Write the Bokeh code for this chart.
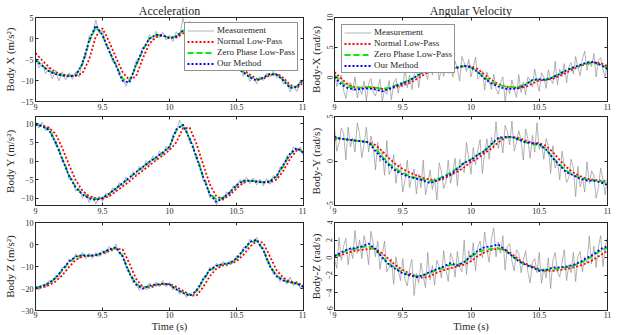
import numpy as np
from bokeh.plotting import figure
from bokeh.layouts import row, column
from bokeh.models import (LinearAxis, FixedTicker, NumeralTickFormatter, Legend,
                          LegendItem, Range1d)
from bokeh.embed import file_html
from bokeh.resources import INLINE

# ---------------- data ----------------
t_acc = np.round(9.0 + 0.025 * np.arange(81), 4)     # raw accel sample times (s)
t_ang = np.round(9.0 + np.arange(121) / 60.0, 4)     # raw gyro sample times (s)
t_filt = np.round(9.0 + 0.05 * np.arange(41), 3)     # filtered sample times (s)
x_ticks = [9, 9.5, 10, 10.5, 11]

series_labels = ["Measurement", "Normal Low-Pass", "Zero Phase Low-Pass", "Our Method"]

# Acceleration X
accx_meas = [-4.6,-7.0,-5.8,-8.4,-6.9,-9.6,-7.6,-10.1,-8.0,-9.9,
             -8.2,-9.7,-7.9,-9.2,-5.1,-4.6,0.6,1.0,4.4,1.6,
             1.9,-1.8,-2.2,-5.6,-5.7,-8.9,-9.0,-11.4,-9.5,-8.9,
             -5.3,-5.0,-2.0,-1.9,0.9,-0.2,1.7,0.2,1.5,-0.4,
             0.8,-0.7,1.6,0.3,4.8,2.0,4.1,1.8,2.9,0.2,
             0.9,-2.1,-1.6,-4.4,-3.7,-6.0,-5.0,-7.1,-5.6,-7.6,
             -6.2,-5.9,-9.0,-7.9,-10.2,-9.0,-10.8,-9.1,-10.0,-8.2,
             -9.1,-7.8,-9.4,-8.6,-10.9,-10.2,-12.7,-11.3,-12.6,-9.9,
             -10.4]
accx_normal = [-3.5,-5.2,-6.8,-8.0,-8.6,-8.8,-8.9,-8.3,-5.0,0.5,
               2.4,-0.8,-4.5,-8.0,-9.9,-9.0,-4.8,-1.2,0.3,0.7,
               0.2,0.2,1.2,2.5,2.5,0.8,-1.5,-3.8,-5.3,-6.2,
               -6.7,-7.4,-8.6,-9.6,-9.6,-8.7,-8.4,-9.4,-11.0,-11.8,
               -10.5]
accx_zero = [-5.0,-6.4,-7.6,-8.4,-8.8,-8.9,-8.7,-6.2,-0.9,2.7,
             0.7,-3.0,-6.3,-9.7,-10.1,-6.6,-2.8,-0.1,0.8,0.8,
             0.1,0.5,1.8,2.8,2.0,0.1,-2.4,-4.4,-5.7,-6.4,
             -7.0,-7.9,-9.1,-9.8,-9.3,-8.5,-8.6,-9.9,-11.5,-11.4,
             -9.9]
accx_ours = [-5.2,-6.5,-7.8,-8.5,-8.8,-9.0,-8.8,-6.0,-0.5,3.1,
             0.8,-3.0,-6.4,-10.1,-10.5,-6.3,-2.7,0.0,0.9,0.8,
             0.0,0.5,1.9,3.0,2.0,0.0,-2.5,-4.5,-5.8,-6.5,
             -7.0,-8.0,-9.3,-10.0,-9.3,-8.4,-8.6,-10.0,-11.8,-11.5,
             -9.8]

# Acceleration Y
accy_meas = [10.6,8.9,10.5,8.1,9.2,7.7,4.1,3.7,-0.3,-0.9,
             -4.9,-4.8,-8.1,-7.2,-10.1,-8.7,-11.2,-9.4,-11.6,-9.5,
             -10.9,-8.6,-9.7,-7.2,-8.3,-5.8,-6.9,-4.3,-5.4,-2.9,
             -3.9,-1.4,-2.5,0.1,-1.1,1.4,0.1,2.7,1.4,4.0,
             2.9,7.2,7.6,11.0,9.0,9.1,5.0,4.7,0.3,-0.4,
             -5.2,-5.5,-9.9,-9.2,-11.9,-9.6,-10.8,-8.3,-9.4,-6.6,
             -7.4,-5.0,-6.2,-4.4,-6.1,-4.6,-6.5,-4.9,-6.7,-4.8,
             -6.3,-3.9,-4.9,-1.6,-1.9,1.5,1.1,3.8,2.6,3.8,
             1.4]
accy_normal = [9.9,9.6,9.0,7.3,3.5,-1.0,-5.2,-8.0,-9.5,-10.0,
               -10.2,-9.5,-8.2,-6.9,-5.5,-4.0,-2.6,-1.2,0.2,1.5,
               2.9,5.0,8.8,9.0,4.8,-0.8,-6.2,-9.6,-10.3,-9.2,
               -7.4,-5.9,-5.3,-5.4,-5.7,-5.8,-5.0,-2.6,0.6,2.9,
               3.1]
accy_zero = [9.8,9.4,8.5,5.2,0.7,-3.8,-7.0,-9.0,-9.9,-10.3,
             -10.0,-8.8,-7.4,-6.0,-4.6,-3.1,-1.7,-0.3,0.9,2.2,
             3.8,8.2,9.8,6.2,1.4,-4.0,-8.8,-10.3,-9.8,-8.4,
             -6.6,-5.4,-5.3,-5.5,-5.7,-5.4,-4.1,-1.2,1.8,3.3,
             2.3]
accy_ours = [9.8,9.4,8.4,5.0,0.5,-4.0,-7.2,-9.0,-10.1,-10.5,
             -10.0,-8.8,-7.4,-6.0,-4.5,-3.0,-1.6,-0.2,1.0,2.3,
             3.8,8.5,9.8,6.0,1.2,-4.2,-9.0,-11.0,-10.0,-8.5,
             -6.5,-5.3,-5.3,-5.6,-5.8,-5.5,-4.0,-1.0,2.0,3.5,
             2.2]

# Acceleration Z
accz_meas = [-18.6,-20.7,-18.2,-19.6,-16.4,-17.6,-14.1,-14.8,-10.3,-10.9,
             -6.6,-7.9,-4.2,-6.5,-3.6,-6.4,-4.0,-6.3,-3.5,-5.5,
             -2.6,-4.2,-0.9,-2.9,0.2,-4.3,-4.2,-10.4,-11.8,-17.3,
             -17.0,-20.8,-19.0,-20.6,-17.5,-19.7,-17.0,-19.3,-16.4,-19.1,
             -17.2,-20.6,-19.4,-22.5,-21.0,-24.1,-22.2,-23.8,-20.0,-19.9,
             -14.9,-15.0,-10.4,-11.9,-8.5,-10.4,-7.7,-9.9,-7.3,-8.7,
             -5.2,-5.6,-1.3,-1.8,2.4,0.7,3.4,-1.2,-1.3,-7.5,
             -8.8,-13.6,-13.3,-16.8,-15.2,-18.1,-14.8,-18.8,-16.6,-19.8,
             -18.2]
accz_normal = [-20.0,-19.5,-18.5,-16.8,-14.0,-10.2,-7.0,-5.4,-5.1,-5.0,
               -4.3,-3.0,-1.8,-2.2,-8.5,-15.5,-19.3,-19.6,-18.6,-18.1,
               -18.0,-19.2,-21.0,-22.8,-23.3,-19.5,-14.5,-11.0,-9.5,-8.8,
               -7.7,-4.8,-1.0,1.5,0.8,-5.5,-11.8,-15.2,-16.8,-17.5,
               -18.6]
accz_zero = [-19.6,-19.0,-17.6,-15.3,-11.8,-8.0,-5.7,-4.9,-5.1,-4.8,
             -3.8,-2.4,-1.6,-5.2,-12.6,-17.9,-19.8,-18.8,-18.2,-17.9,
             -18.2,-20.2,-21.8,-23.0,-21.3,-16.3,-11.8,-9.8,-8.9,-8.5,
             -6.5,-2.8,0.8,1.9,-2.3,-9.6,-14.2,-16.3,-17.1,-17.8,
             -19.2]
accz_ours = [-19.7,-19.0,-17.5,-15.2,-11.5,-7.8,-5.5,-4.8,-5.2,-4.8,
             -3.7,-2.2,-1.3,-5.5,-13.0,-18.2,-20.1,-18.7,-18.2,-17.8,
             -18.2,-20.4,-22.0,-23.3,-21.2,-16.0,-11.5,-9.7,-8.8,-8.5,
             -6.3,-2.5,1.2,2.2,-2.5,-10.0,-14.5,-16.4,-17.2,-17.8,
             -19.3]

# Angular velocity X
angx_meas = [1.0,-1.5,-0.4,0.4,-2.1,-3.5,-1.2,-0.8,-2.2,0.1,
             -3.4,-1.7,-2.8,-0.6,-3.9,-1.0,-0.2,-2.4,-3.1,-1.6,
             -0.3,-3.9,-2.1,-2.8,-0.5,-3.7,-0.9,-0.2,-2.6,-0.8,
             -1.6,1.6,-1.7,0.4,-2.0,0.4,1.7,-1.7,0.7,1.9,
             0.6,-0.3,3.1,0.4,2.0,2.7,-0.4,1.6,0.2,3.4,
             0.7,2.2,0.1,2.7,1.5,-0.6,3.5,2.5,1.0,3.0,
             0.1,1.7,3.4,-0.2,0.2,1.1,-2.1,0.9,-0.6,-2.0,
             0.5,-1.9,-2.8,-0.9,0.1,-3.9,-1.5,-2.7,-0.4,-2.0,
             -3.3,0.5,-2.5,-0.8,-2.9,0.1,-0.5,-1.6,1.4,-0.8,
             -2.3,0.8,0.1,-1.8,1.3,-0.4,-1.0,2.7,-1.2,1.4,
             0.1,2.3,-0.9,1.8,2.5,0.6,3.5,1.6,0.3,3.1,
             4.4,1.2,2.8,1.8,4.0,0.1,2.9,3.3,1.3,0.1,
             2.5]
angx_normal = [0.9,-0.2,-1.2,-1.6,-1.7,-1.6,-1.7,-1.9,-1.9,-1.6,
               -1.3,-0.9,-0.3,0.4,1.0,1.3,1.4,1.4,1.6,1.9,
               1.9,1.4,0.5,-0.4,-1.1,-1.5,-1.7,-1.7,-1.6,-1.0,
               -0.5,-0.4,-0.2,0.3,0.8,1.4,1.9,2.3,2.5,2.4,
               1.9]
angx_zero = [0.4,-0.8,-1.5,-1.7,-1.7,-1.6,-1.7,-1.9,-1.7,-1.3,
             -0.9,-0.4,0.2,0.9,1.3,1.4,1.4,1.4,1.7,1.9,
             1.7,0.9,0.0,-0.8,-1.2,-1.5,-1.6,-1.5,-1.1,-0.5,
             -0.3,-0.3,0.1,0.7,1.2,1.6,2.0,2.3,2.4,2.1,
             1.6]
angx_ours = [0.1,-1.2,-1.8,-2.0,-1.9,-1.8,-2.0,-2.3,-1.9,-1.4,
             -1.0,-0.5,0.2,0.9,1.3,1.4,1.4,1.4,1.7,2.0,
             1.7,0.9,-0.2,-1.0,-1.5,-1.9,-1.9,-1.8,-1.2,-0.4,
             -0.3,-0.4,0.0,0.6,1.2,1.7,2.1,2.5,2.6,2.1,
             1.4]

# Angular velocity Y
angy_meas = [3.8,1.1,2.0,3.7,3.1,0.1,3.8,1.6,2.6,1.0,
             4.3,3.1,0.4,1.8,3.8,1.0,2.8,1.8,-1.0,2.1,
             -0.1,1.1,-1.6,2.3,-1.5,-1.0,0.7,-2.5,-0.7,-0.3,
             -3.5,-2.1,0.1,-3.0,-1.7,-0.9,-3.7,-1.5,-3.0,0.1,
             -3.8,-2.5,-1.0,-3.2,-1.9,-4.4,-0.2,-1.2,-3.1,-2.3,
             0.1,-2.5,-1.2,0.3,-2.8,0.2,-0.7,-1.3,2.1,0.3,
             -1.5,1.5,-0.4,1.2,2.4,-1.4,0.9,2.5,0.2,2.7,
             1.4,4.4,1.4,2.8,0.9,4.0,3.3,1.8,4.5,1.1,
             2.1,3.4,2.3,0.1,3.6,2.5,0.3,2.9,1.0,4.3,
             1.3,2.0,0.2,2.5,1.7,-1.4,1.7,-0.8,-0.1,-2.1,
             1.1,-0.5,-2.4,-1.9,0.2,-0.8,-4.0,-0.6,-2.9,-1.9,
             -3.5,-0.1,-2.5,-1.1,-1.6,-4.2,-3.0,-0.8,-2.1,-3.8,
             -1.8]
angy_normal = [2.4,2.5,2.4,2.3,2.2,2.1,1.8,1.1,0.3,-0.4,
               -0.9,-1.3,-1.6,-1.9,-2.1,-2.2,-2.0,-1.6,-1.2,-0.7,
               -0.1,0.3,0.9,1.4,2.1,2.6,2.7,2.6,2.3,2.0,
               2.0,1.7,1.0,0.1,-0.7,-1.3,-1.7,-2.0,-2.1,-2.2,
               -2.3]
angy_zero = [2.6,2.5,2.4,2.3,2.2,2.1,1.4,0.5,-0.3,-0.9,
             -1.3,-1.7,-1.9,-2.1,-2.3,-2.1,-1.7,-1.3,-0.8,-0.2,
             0.2,0.7,1.2,1.9,2.5,2.7,2.7,2.4,2.1,1.9,
             1.8,1.3,0.4,-0.4,-1.1,-1.6,-1.9,-2.1,-2.2,-2.3,
             -2.5]
angy_ours = [2.7,2.5,2.4,2.3,2.2,2.1,1.1,0.3,-0.5,-1.1,
             -1.5,-1.8,-2.0,-2.2,-2.5,-2.2,-1.8,-1.5,-0.9,-0.2,
             0.1,0.7,1.1,1.9,2.6,2.7,2.7,2.4,2.1,2.0,
             1.9,1.3,0.3,-0.5,-1.3,-1.6,-2.0,-2.2,-2.2,-2.4,
             -2.7]

# Angular velocity Z
angz_meas = [-0.2,-1.2,2.3,-0.3,1.3,2.2,-0.8,1.2,-0.1,3.1,
             0.5,2.0,-0.1,2.5,1.3,-0.8,3.0,1.7,0.1,1.9,
             -1.3,0.3,1.9,-1.6,-1.1,-0.1,-3.0,0.1,-1.4,-2.6,
             -0.1,-2.5,-3.2,-1.3,-0.2,-4.3,-1.8,-2.9,-0.6,-2.1,
             -3.4,0.6,-2.5,-0.9,-3.1,-0.3,-1.0,-2.3,0.8,-1.4,
             -2.7,0.5,-0.2,-2.2,0.7,-1.1,-1.6,2.0,-1.9,0.8,
             -0.5,1.7,-1.5,1.2,1.9,0.0,2.9,0.8,-0.5,2.2,
             3.4,0.1,1.8,0.5,2.5,-1.4,1.3,1.6,-0.4,-1.5,
             0.9,0.5,-1.7,-0.3,0.8,-1.6,-2.9,-0.5,-0.1,-1.7,
             0.6,-2.9,-1.2,-2.3,0.0,-3.5,-0.3,0.6,-1.6,-2.2,
             -0.6,0.9,-2.6,-0.8,-1.7,0.6,-2.7,0.1,0.7,-1.6,
             0.1,-0.6,2.5,-0.7,1.3,-1.1,1.2,2.5,-1.0,1.2,
             2.3]
angz_normal = [0.1,0.3,0.6,0.8,0.9,1.0,1.0,0.5,-0.2,-0.9,
               -1.4,-1.8,-2.1,-2.3,-2.1,-1.7,-1.4,-1.2,-1.0,-0.8,
               -0.4,0.2,0.6,0.9,1.0,0.9,0.4,-0.2,-0.7,-1.0,
               -1.3,-1.5,-1.5,-1.4,-1.3,-1.1,-0.9,-0.6,-0.2,0.3,
               0.8]
angz_zero = [0.2,0.5,0.9,1.0,1.2,1.3,0.9,0.1,-0.7,-1.2,
             -1.7,-2.0,-2.1,-2.0,-1.7,-1.4,-1.1,-0.8,-0.8,-0.5,
             0.1,0.6,0.9,1.0,1.1,0.8,0.2,-0.4,-0.8,-1.1,
             -1.4,-1.4,-1.3,-1.2,-1.1,-0.9,-0.6,-0.2,0.3,0.8,
             1.1]
angz_ours = [0.2,0.6,1.0,1.1,1.3,1.6,1.0,0.0,-0.8,-1.3,
             -1.8,-2.0,-2.2,-2.0,-1.6,-1.3,-1.0,-0.6,-0.9,-0.5,
             0.2,0.8,1.2,1.3,1.5,0.9,0.2,-0.4,-0.8,-1.1,
             -1.5,-1.4,-1.1,-1.1,-1.0,-0.8,-0.5,0.0,0.4,1.0,
             1.3]

for arr in [accx_meas, accy_meas, accz_meas]:
    assert len(arr) == 81, len(arr)
for arr in [angx_meas, angy_meas, angz_meas]:
    assert len(arr) == 121, len(arr)
for arr in [accx_normal, accx_zero, accx_ours, accy_normal, accy_zero, accy_ours,
            accz_normal, accz_zero, accz_ours, angx_normal, angx_zero, angx_ours,
            angy_normal, angy_zero, angy_ours, angz_normal, angz_zero, angz_ours]:
    assert len(arr) == 41, len(arr)

# ---------------- styling ----------------
FONT = "Liberation Serif"
C_MEAS = "#8f8f8f"
C_RED = "#ff0000"
C_GREEN = "#00ee00"
C_BLUE = "#0000ff"
C_INK = "#262626"


def style_axis(ax, ticks, show_labels=True):
    ax.ticker = FixedTicker(ticks=ticks)
    ax.major_tick_in = 3
    ax.major_tick_out = 0
    ax.major_tick_line_color = C_INK
    ax.minor_tick_line_color = None
    ax.axis_line_color = C_INK
    ax.major_label_text_font = FONT
    ax.major_label_text_color = C_INK
    if show_labels:
        ax.major_label_text_font_size = "8px"
        ax.major_label_standoff = 2
    else:
        ax.major_label_text_font_size = "0px"
        ax.major_label_standoff = 0
    ax.axis_label_text_font = FONT
    ax.axis_label_text_font_style = "normal"
    ax.axis_label_text_font_size = "11px"
    ax.axis_label_text_color = C_INK
    ax.axis_label_standoff = 2


def panel(t_raw, meas, normal, zero, ours, yr, yticks, ylabel, left_col, top_b, bot_b, fh,
          title=None, xlabel=None, legend_loc=None):
    fw = 268 if left_col else 273
    p = figure(frame_width=fw, frame_height=fh,
               x_range=Range1d(9, 11), y_range=Range1d(*yr),
               output_backend="svg", toolbar_location=None,
               min_border_left=27 if left_col else 28,
               min_border_right=3 if left_col else 6,
               min_border_top=top_b, min_border_bottom=bot_b)
    p.grid.visible = False
    p.outline_line_color = C_INK
    p.background_fill_color = "white"
    p.border_fill_color = "white"

    r0 = p.line(t_raw, meas, color=C_MEAS, line_width=0.8, line_alpha=0.85)
    r1 = p.line(t_filt, normal, color=C_RED, line_width=1.8, line_dash="2 2")
    r2 = p.line(t_filt, zero, color=C_GREEN, line_width=1.8, line_dash="6 3")
    r3 = p.line(t_filt, ours, color=C_BLUE, line_width=1.8, line_dash="2 2")

    xa = p.xaxis[0]
    style_axis(xa, x_ticks)
    xa.formatter = NumeralTickFormatter(format="0.[0]")
    if xlabel:
        xa.axis_label = xlabel
        xa.axis_label_standoff = 0
        xa.major_label_standoff = 1
        xa.axis_label_text_font_size = "10.5px"
    ya = p.yaxis[0]
    style_axis(ya, yticks)
    ya.axis_label = ylabel
    if not left_col:
        ya.major_label_orientation = "vertical"

    top = LinearAxis()
    style_axis(top, x_ticks, show_labels=False)
    if title:
        top.axis_label = title
        top.axis_label_text_font_size = "12px"
        top.axis_label_standoff = 0
    p.add_layout(top, "above")
    right = LinearAxis()
    style_axis(right, yticks, show_labels=False)
    p.add_layout(right, "right")

    if legend_loc:
        items = [LegendItem(label=lab, renderers=[r])
                 for lab, r in zip(series_labels, [r0, r1, r2, r3])]
        leg = Legend(items=items, location=legend_loc,
                     border_line_color=C_INK, border_line_width=1,
                     background_fill_color="white", background_fill_alpha=1.0,
                     label_text_font=FONT, label_text_font_size="9px",
                     label_text_color=C_INK,
                     glyph_width=27, glyph_height=9, label_height=9,
                     spacing=1, padding=2, margin=5, label_standoff=3)
        if legend_loc == "top_left":
            leg.margin = 7
        p.add_layout(leg)
    return p


p1 = panel(t_acc, accx_meas, accx_normal, accx_zero, accx_ours, (-15, 5), [-15, -10, -5, 0, 5],
           "Body X (m/s²)", True, 11, 12, 84, title="Acceleration", legend_loc="top_right")
p2 = panel(t_acc, accy_meas, accy_normal, accy_zero, accy_ours, (-12, 12), [-10, -5, 0, 5, 10],
           "Body Y (m/s²)", True, 3, 12, 89)
p3 = panel(t_acc, accz_meas, accz_normal, accz_zero, accz_ours, (-30, 10), [-30, -20, -10, 0, 10],
           "Body Z (m/s²)", True, 5, 23, 88, xlabel="Time (s)")
p4 = panel(t_ang, angx_meas, angx_normal, angx_zero, angx_ours, (-4, 10), [0, 5, 10],
           "Body-X (rad/s)", False, 11, 12, 84, title="Angular Velocity", legend_loc="top_left")
p5 = panel(t_ang, angy_meas, angy_normal, angy_zero, angy_ours, (-5, 5), [-5, 0, 5],
           "Body-Y (rad/s)", False, 3, 12, 89)
p6 = panel(t_ang, angz_meas, angz_normal, angz_zero, angz_ours, (-6, 4), [-6, -4, -2, 0, 2, 4],
           "Body-Z (rad/s)", False, 5, 23, 88, xlabel="Time (s)")

layout = row(column(p1, p2, p3), column(p4, p5, p6))

open("out.html", "w").write(file_html(layout, INLINE))
